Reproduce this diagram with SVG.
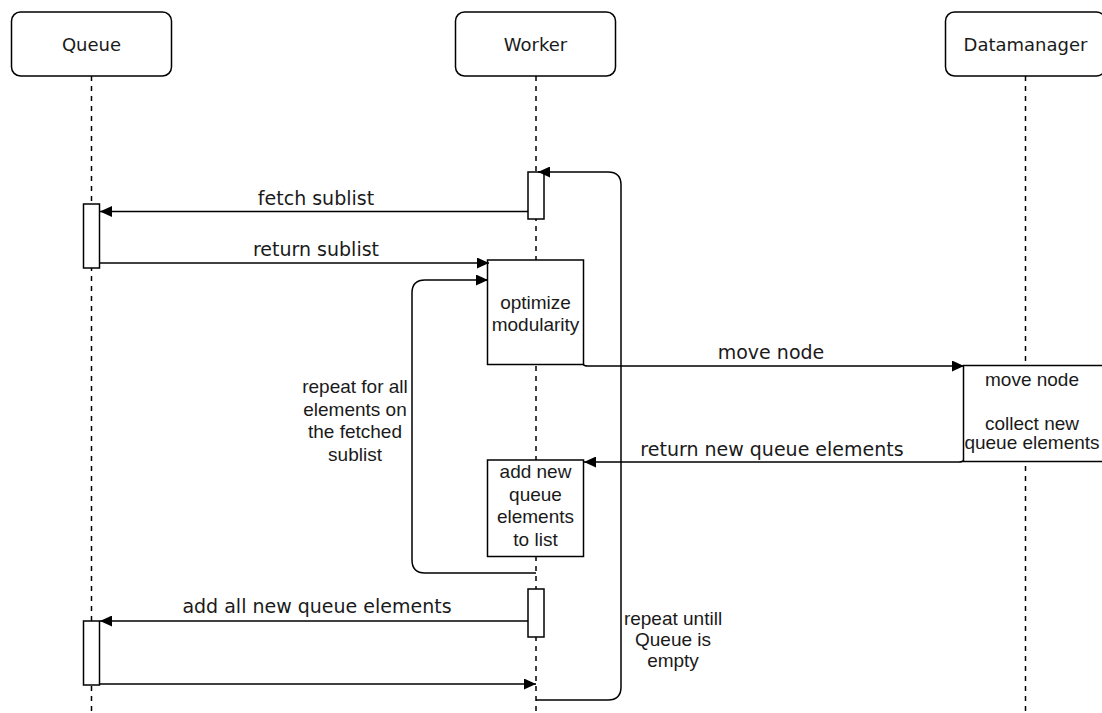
<svg xmlns="http://www.w3.org/2000/svg" width="1102" height="713" viewBox="0 0 1102 713">
<defs>
<marker id="arr" markerUnits="userSpaceOnUse" markerWidth="13" markerHeight="11" refX="12" refY="5.5" orient="auto">
<path d="M0,0 L12,5.5 L0,11 z" fill="#000"/>
</marker>
<style>
.hdr{fill:#fff;stroke:#000;stroke-width:1.5}
.life{stroke:#000;stroke-width:1.5;stroke-dasharray:5 5;fill:none}
.act{fill:#fff;stroke:#000;stroke-width:1.5}
.conn{fill:none;stroke:#000;stroke-width:1.5;marker-end:url(#arr)}
.ht{font-family:"DejaVu Sans",sans-serif;font-size:18px;fill:#1a1a1a;text-anchor:middle}
.lt{font-family:"DejaVu Sans",sans-serif;font-size:19px;fill:#1a1a1a;text-anchor:middle}
.bt{font-family:"Liberation Sans",Arial,sans-serif;font-size:19px;fill:#1a1a1a;text-anchor:middle}
</style>
</defs>
<rect width="1102" height="713" fill="#fff"/>
<g id="queue">
<line class="life" x1="91.5" y1="76" x2="91.5" y2="713"/>
<rect class="hdr" x="11.5" y="12" width="160" height="64" rx="9"/>
<text class="ht" x="91.5" y="50.5">Queue</text>
</g>
<g id="worker">
<line class="life" x1="536" y1="76" x2="536" y2="713"/>
<rect class="hdr" x="455.5" y="12" width="160" height="64" rx="9"/>
<text class="ht" x="535.5" y="50.5">Worker</text>
</g>
<g id="datamanager">
<line class="life" x1="1025.5" y1="76" x2="1025.5" y2="713"/>
<rect class="hdr" x="945.5" y="12" width="160" height="64" rx="9"/>
<text class="ht" x="1025.5" y="50.5">Datamanager</text>
</g>
<g id="worker-act1"><rect class="act" x="528" y="172" width="16" height="47"/></g>
<g id="queue-act1"><rect class="act" x="83.5" y="204" width="16" height="64"/></g>
<g id="optimize">
<rect class="act" x="487.5" y="260" width="96" height="104.5"/>
<text class="bt" x="535.5" y="309">optimize</text>
<text class="bt" x="535.5" y="331">modularity</text>
</g>
<g id="dm-act">
<rect class="act" x="963.5" y="365.5" width="145" height="96"/>
<text class="bt" x="1032" y="386">move node</text>
<text class="bt" x="1032" y="430">collect new</text>
<text class="bt" x="1032" y="449">queue elements</text>
</g>
<g id="addnew">
<rect class="act" x="487.5" y="460" width="96" height="96.5"/>
<text class="bt" x="535.5" y="478">add new</text>
<text class="bt" x="535.5" y="500.5">queue</text>
<text class="bt" x="535.5" y="523">elements</text>
<text class="bt" x="535.5" y="545.5">to list</text>
</g>
<g id="worker-act2"><rect class="act" x="528" y="589" width="16" height="48"/></g>
<g id="queue-act2"><rect class="act" x="83.5" y="621" width="16" height="64"/></g>
<g id="connectors">
<path class="conn" d="M528,211.5 L100,211.5"/>
<text class="lt" x="316" y="205">fetch sublist</text>
<path class="conn" d="M99.5,263 L489,263"/>
<text class="lt" x="316" y="256">return sublist</text>
<path class="conn" d="M536,573 L425,573 Q412,573 412,560 L412,293 Q412,280 425,280 L488,280"/>
<text class="bt" x="355" y="393">repeat for all</text>
<text class="bt" x="355" y="415.5">elements on</text>
<text class="bt" x="355" y="438">the fetched</text>
<text class="bt" x="355" y="460.5">sublist</text>
<path class="conn" d="M583.5,364.5 Q584,366 588,366 L964,366"/>
<text class="lt" x="771" y="359">move node</text>
<path class="conn" d="M963.5,460 Q963,462 959,462 L584,462"/>
<text class="lt" x="772" y="456">return new queue elements</text>
<path class="conn" d="M528,621 L100,621"/>
<text class="lt" x="317" y="613">add all new queue elements</text>
<path class="conn" d="M99.5,684 L536,684"/>
<path class="conn" d="M536,700 L608,700 Q621,700 621,687 L621,185 Q621,172 608,172 L538,172"/>
<text class="bt" x="673" y="625">repeat untill</text>
<text class="bt" x="673" y="646">Queue is</text>
<text class="bt" x="673" y="667">empty</text>
</g>
</svg>
